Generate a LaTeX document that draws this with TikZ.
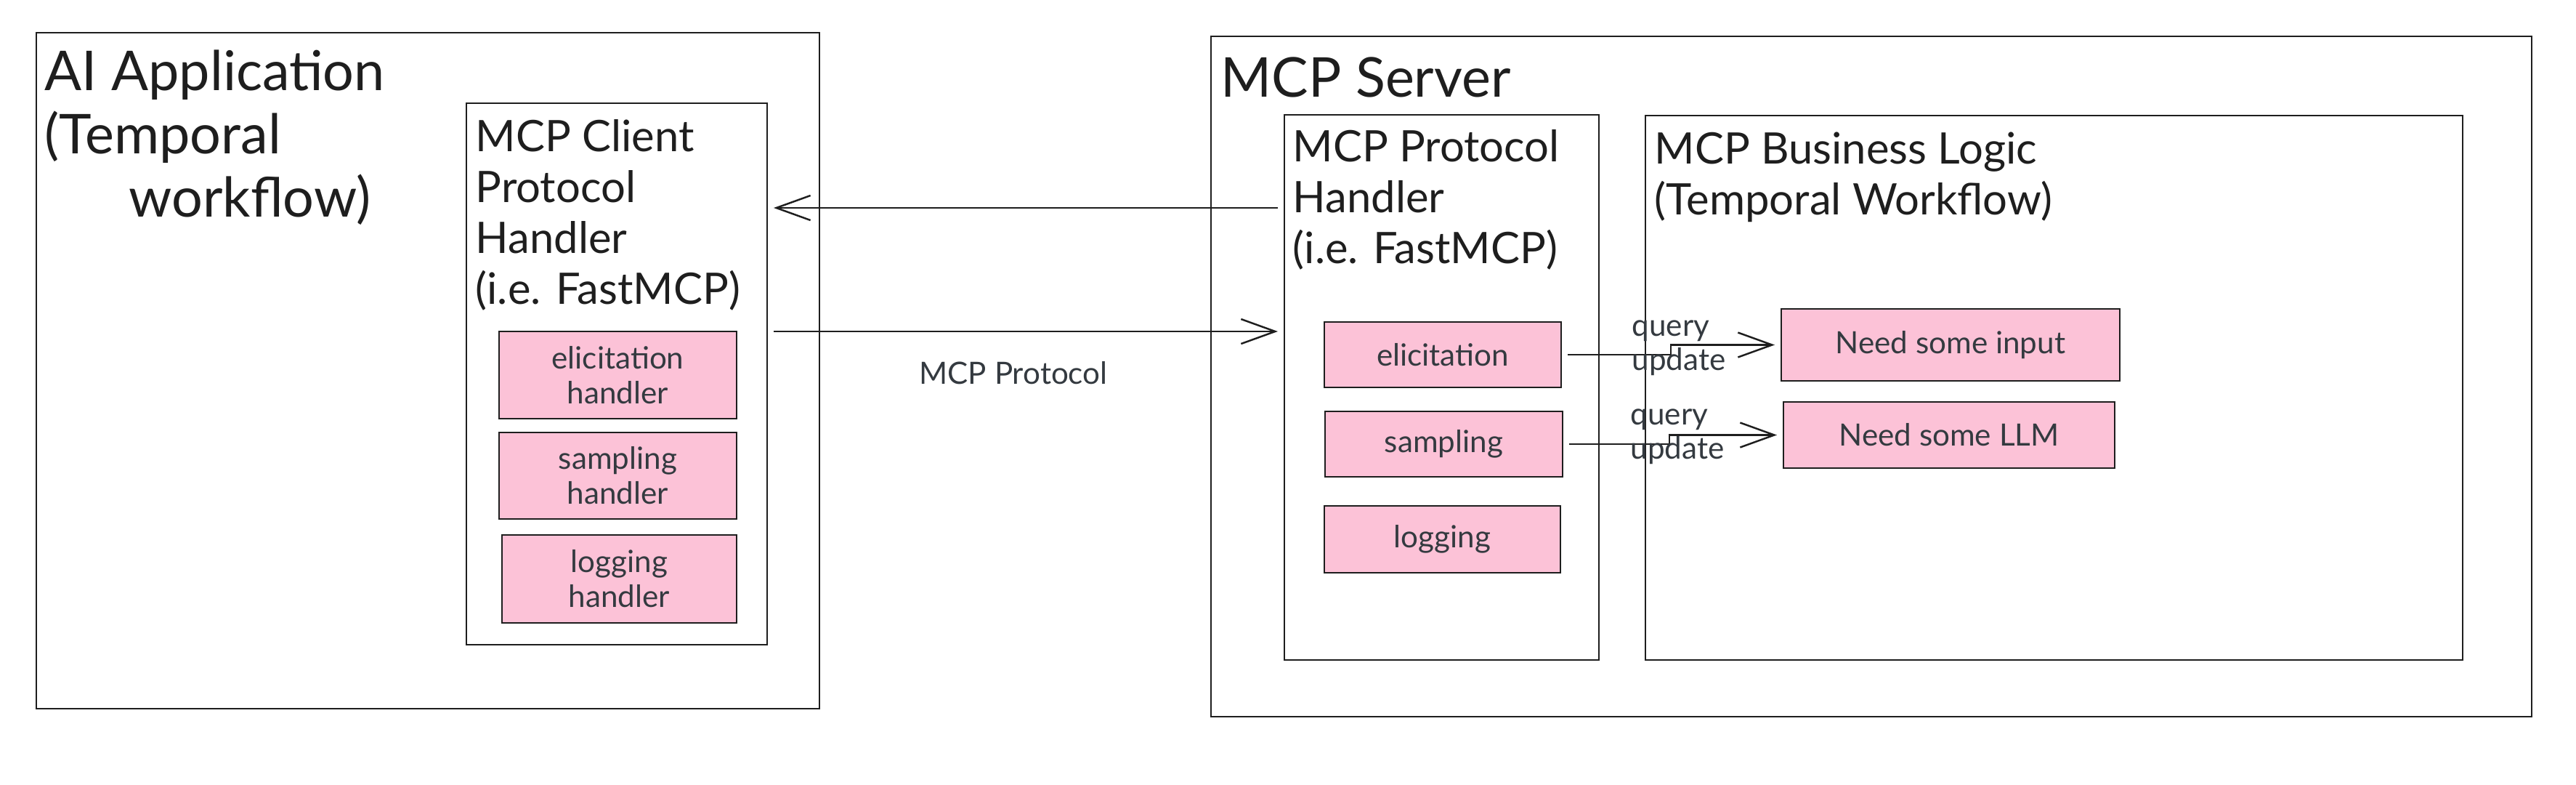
\documentclass[tikz,border=0pt]{standalone}
\usepackage{fontspec}
\setmainfont{Lato}
\usepackage{xcolor}
\definecolor{inkgrey}{HTML}{1E1E1E}
\definecolor{textgrey}{HTML}{343A40}
\definecolor{handlerpink}{HTML}{FCC2D7}
\usetikzlibrary{arrows.meta,positioning,calc}

\tikzset{
  boxframe/.style={draw=inkgrey, line width=0.7pt, outer sep=0.09cm, inner sep=0pt},
  pinkbox/.style={boxframe, fill=handlerpink, text=textgrey, font=\fontsize{12}{13.7}\selectfont, align=center},
  boxtitle/.style={anchor=north west, inner sep=0pt, text=inkgrey, align=left},
  bigtitle/.style={boxtitle, font=\fontsize{21.5}{24.8}\selectfont},
  midtitle/.style={boxtitle, font=\fontsize{17}{19.9}\selectfont},
  flow/.style={draw=inkgrey, line width=0.7pt, -{Straight Barb[length=0.47cm, width=0.34cm]}},
  flowlabel/.style={text=textgrey, font=\fontsize{12}{13.5}\selectfont, align=left}
}

\begin{document}
\begin{tikzpicture}
      \useasboundingbox (0,0) rectangle (35.46,-10.79);

      % AI application side
      \node[boxframe, minimum width=10.78cm, minimum height=9.30cm] (aiapp) at (5.89,-5.10) {};
      \node[bigtitle] (apptitle) at (0.61,-0.68) {AI Application\\(Temporal\\\hspace*{33pt}workflow)};

      \node[boxframe, minimum width=4.14cm, minimum height=7.45cm] (client) at (8.49,-5.145) {};
      \node[midtitle] (clienttitle) at (6.54,-1.64) {MCP Client\\Protocol\\Handler\\(i.e. FastMCP)};

      \node[pinkbox, minimum width=3.27cm, minimum height=1.20cm] (celicit) at (8.505,-5.16) {elicitation\\handler};
      \node[pinkbox, minimum width=3.27cm, minimum height=1.19cm] (csampling) at (8.505,-6.545) {sampling\\handler};
      \node[pinkbox, minimum width=3.23cm, minimum height=1.21cm] (clogging) at (8.525,-7.965) {logging\\handler};

      % MCP server side
      \node[boxframe, minimum width=18.18cm, minimum height=9.36cm] (server) at (25.76,-5.18) {};
      \node[bigtitle] (servertitle) at (16.80,-0.78) {MCP Server};

      \node[boxframe, minimum width=4.33cm, minimum height=7.50cm] (phandler) at (19.845,-5.33) {};
      \node[midtitle] (phtitle) at (17.79,-1.78) {MCP Protocol\\Handler\\(i.e. FastMCP)};

      \node[pinkbox, minimum width=3.26cm, minimum height=0.90cm] (selicit) at (19.86,-4.88) {elicitation};
      \node[pinkbox, minimum width=3.27cm, minimum height=0.90cm] (ssampling) at (19.875,-6.11) {sampling};
      \node[pinkbox, minimum width=3.25cm, minimum height=0.92cm] (slogging) at (19.855,-7.42) {logging};

      \node[boxframe, minimum width=11.25cm, minimum height=7.49cm] (logic) at (28.275,-5.335) {};
      \node[midtitle] (logictitle) at (22.77,-1.81) {MCP Business Logic\\(Temporal Workflow)};

      \node[pinkbox, minimum width=4.66cm, minimum height=0.99cm] (needinput) at (26.85,-4.745) {Need some input};
      \node[pinkbox, minimum width=4.56cm, minimum height=0.91cm] (needllm) at (26.83,-5.985) {Need some LLM};

      % protocol traffic
      \draw[flow] (phandler.west |- 0,-2.86) -- (client.east |- 0,-2.86);
      \draw[flow] (client.east |- 0,-4.56) -- node[flowlabel, xshift=-0.17cm, yshift=-0.57cm] {MCP Protocol} (phandler.west |- 0,-4.56);

      \draw[flow] (selicit.east) -- ++(1.42,0) |- node[flowlabel, xshift=0.11cm, yshift=-0.04cm] {query\\update} (needinput.west);
      \draw[flow] (ssampling.east) -- ++(1.38,0) |- node[flowlabel, xshift=0.11cm, yshift=-0.02cm] {query\\update} (needllm.west);
    \end{tikzpicture}
\end{document}
